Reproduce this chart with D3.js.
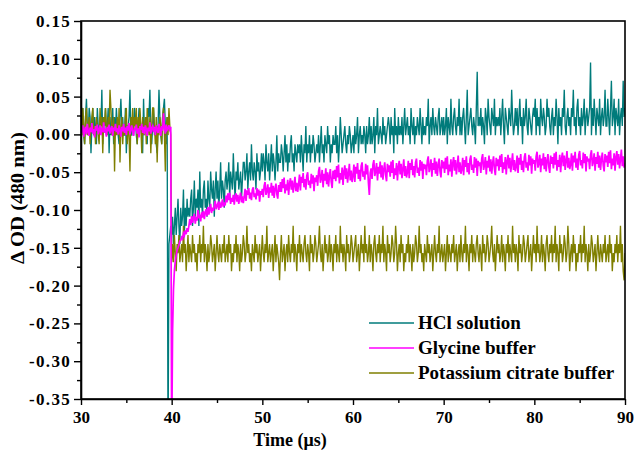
<!DOCTYPE html>
<html><head><meta charset="utf-8">
<script src="https://cdn.jsdelivr.net/npm/d3@7"></script>
<style>body{margin:0;background:#fff}svg{display:block}</style>
</head><body><svg id="c" width="637" height="451"></svg>
<script>
const seriesNames = ["HCl solution", "Glycine buffer", "Potassium citrate buffer"];
const seriesColors = ["#007b7b", "#ff00ff", "#7f7f00"];
const timeStart = 30, timeStep = 0.1; // µs, sampling of the traces
// ΔOD values in thousandths (mOD), one per time sample (30.0 … 90.0 µs)
const hclMilliOD = [
 11,23,35,-1,-13,23,47,11,-1,35,23,-25,11,35,-1,23,11,-13,35,11,
 -1,23,11,59,-13,23,11,35,-1,11,35,-25,23,-1,11,35,-13,23,-1,35,
 11,-1,-13,23,47,11,23,-1,-1,35,-25,11,11,23,59,-1,-1,23,11,35,
 23,-1,-13,11,35,23,11,-1,-25,47,-1,11,23,-13,35,23,59,-1,-13,11,
 35,-1,11,-13,-25,11,59,23,-1,-13,23,35,47,11,-13,23,-420,-145,-133,-121,
 -133,-109,-145,-121,-97,-133,-109,-85,-121,-145,-97,-121,-109,-73,-133,-97,-121,-85,-109,-97,
 -109,-85,-73,-121,-97,-61,-109,-85,-97,-73,-121,-49,-97,-85,-109,-73,-61,-97,-85,-109,
 -61,-85,-97,-49,-73,-85,-61,-109,-73,-49,-85,-61,-97,-73,-37,-85,-61,-73,-97,-61,
 -49,-73,-61,-37,-85,-49,-61,-73,-25,-61,-85,-49,-61,-37,-73,-61,-49,-85,-61,-37,
 -37,-61,-49,-25,-73,-49,-37,-61,-13,-49,-61,-37,-49,-73,-25,-49,-37,-61,-49,-25,
 -49,-25,-37,-61,-13,-37,-49,-25,-61,-37,-13,-49,-25,-37,-61,-37,-1,-49,-25,-37,
 -37,-13,-25,-49,-25,-1,-37,-13,-49,-25,-37,-13,-1,-37,-25,-49,-13,-25,-37,-13,
 -25,-13,-37,-1,-25,-49,-13,-25,11,-37,-13,-25,-1,-37,-13,-25,-1,-13,-37,-25,
 -13,-25,-1,-37,-13,11,-25,-13,-37,-1,-13,-25,11,-13,-1,-37,-13,-25,-1,-13,
 -13,11,-25,-1,-37,-13,23,-1,-25,-13,-1,11,-13,-25,-1,-13,11,-1,-25,-13,
 -1,-25,11,-13,-1,23,-25,-1,11,-13,-1,-13,11,-1,-25,11,-13,-1,23,-13,
 11,-13,-1,23,-25,11,-1,35,-13,-1,11,-1,-13,23,-1,11,-13,-1,11,23,
 11,-13,23,-1,11,-25,35,-1,11,-13,23,-1,11,-1,23,-13,11,35,-1,11,
 23,-1,11,-13,35,11,-1,23,-13,11,-1,23,11,-1,35,11,-13,23,-1,11,
 -1,23,11,47,-13,11,23,-1,35,11,-1,23,11,-1,23,35,-1,11,23,-1,
 23,-1,11,35,-13,23,11,-1,47,11,-1,23,35,11,-1,23,11,47,-1,23,
 -1,23,35,11,-13,23,59,-1,11,23,35,11,-1,23,11,-13,35,83,11,23,
 11,35,-1,23,11,-13,35,23,-1,47,23,11,-1,35,23,11,47,-1,23,11,
 23,11,35,-1,23,47,11,-13,35,23,11,-1,35,23,11,59,23,-1,11,35,
 11,35,-1,23,47,11,23,-13,35,11,23,47,11,-1,35,23,11,-1,23,35,
 23,47,-1,35,11,23,-1,47,23,11,35,23,-1,11,47,23,35,11,-1,23,
 35,-1,23,11,47,23,-13,35,11,23,-1,35,23,59,11,-1,23,35,11,23,
 -1,35,23,59,11,23,-1,35,47,11,23,-1,35,11,23,47,-1,23,35,11,
 23,35,95,-1,35,11,47,23,-1,35,23,11,47,-1,23,35,11,23,59,11,
 11,47,23,-1,35,71,11,23,47,-1,35,23,11,47,-1,23,35,11,71,23,
 35
];
const glycineMilliOD = [
 8,2,12,-3,6,10,0,14,4,-2,9,3,15,1,7,-4,11,5,13,0,
 6,12,-1,9,3,16,2,8,-3,10,4,13,1,7,11,-2,9,5,14,3,
 8,0,12,6,-3,10,4,14,2,9,-1,11,5,15,0,7,12,3,-2,9,
 5,13,1,8,-4,11,6,14,2,10,0,12,7,-2,9,4,16,1,8,11,
 3,10,-1,12,6,2,14,7,-2,11,5,28,9,1,13,6,8,12,4,10,
 -420,-260,-205,-180,-168,-160,-153,-150,-146,-141,-140,-136,-138,-131,-134,-127,-132,-124,-129,-121,
 -112,-120,-108,-117,-110,-105,-118,-109,-114,-100,-111,-106,-115,-103,-110,-101,-112,-104,-99,-108,
 -96,-106,-99,-92,-104,-97,-101,-95,-88,-99,-94,-91,-100,-89,-97,-93,-86,-96,-90,-94,
 -81,-90,-78,-87,-77,-92,-84,-89,-80,-93,-83,-78,-89,-80,-92,-84,-77,-90,-82,-91,
 -83,-72,-88,-74,-80,-71,-85,-77,-87,-73,-70,-83,-78,-86,-71,-81,-73,-89,-75,-80,
 -72,-83,-68,-63,-80,-75,-66,-84,-70,-77,-64,-81,-68,-84,-72,-65,-79,-85,-67,-76,
 -63,-76,-59,-71,-57,-78,-66,-74,-60,-80,-65,-58,-73,-61,-77,-67,-56,-75,-64,-76,
 -66,-53,-74,-56,-64,-51,-70,-59,-73,-55,-50,-67,-61,-71,-52,-65,-54,-75,-57,-63,
 -54,-68,-49,-43,-64,-58,-47,-70,-52,-61,-45,-66,-50,-69,-55,-46,-63,-71,-48,-59,
 -47,-62,-42,-57,-40,-65,-51,-60,-44,-67,-49,-41,-59,-45,-64,-52,-39,-61,-48,-63,
 -55,-40,-63,-43,-52,-38,-59,-47,-62,-42,-37,-56,-49,-60,-39,-53,-41,-64,-80,-51,
 -45,-59,-40,-34,-55,-49,-38,-61,-43,-52,-36,-57,-41,-60,-46,-37,-54,-62,-39,-50,
 -41,-56,-36,-51,-34,-59,-45,-54,-38,-61,-43,-35,-53,-39,-58,-46,-33,-55,-42,-57,
 -50,-35,-58,-38,-47,-33,-54,-42,-57,-37,-32,-51,-44,-55,-34,-48,-36,-59,-39,-46,
 -40,-54,-35,-29,-50,-44,-33,-56,-38,-47,-31,-52,-36,-55,-41,-32,-49,-57,-34,-45,
 -36,-51,-31,-46,-29,-54,-40,-49,-33,-56,-38,-30,-48,-34,-53,-41,-28,-50,-37,-52,
 -46,-31,-54,-34,-43,-29,-50,-38,-53,-33,-28,-47,-40,-51,-30,-44,-32,-55,-35,-42,
 -37,-51,-32,-26,-47,-41,-30,-53,-35,-44,-28,-49,-33,-52,-38,-29,-46,-54,-31,-42,
 -33,-48,-28,-43,-26,-51,-37,-46,-30,-53,-35,-27,-45,-31,-50,-38,-25,-47,-34,-49,
 -43,-28,-51,-31,-40,-26,-47,-35,-50,-30,-25,-44,-37,-48,-27,-41,-29,-52,-32,-39,
 -34,-48,-29,-23,-44,-38,-27,-50,-32,-41,-25,-46,-30,-49,-35,-26,-43,-51,-28,-39,
 -30,-45,-25,-40,-23,-48,-34,-43,-27,-50,-32,-24,-42,-28,-47,-35,-22,-44,-31,-46,
 -40,-25,-48,-28,-37,-23,-44,-32,-47,-27,-22,-41,-34,-45,-24,-38,-26,-49,-29,-36,
 -32,-46,-27,-21,-42,-36,-25,-48,-30,-39,-23,-44,-28,-47,-33,-24,-41,-49,-26,-37,
 -28,-43,-23,-38,-21,-46,-32,-41,-25,-48,-30,-22,-40,-26,-45,-33,-20,-42,-29,-44,
 -38
];
const citrateMilliOD = [
 23,-1,35,11,-13,23,35,-1,11,23,-13,11,23,35,-1,11,-13,23,11,-1,
 -13,35,11,23,-25,23,11,35,11,-1,23,11,59,35,-1,11,23,-49,11,-1,
 23,-1,35,-37,11,23,-13,11,-1,23,35,-13,11,-1,-49,23,11,35,-1,23,
 11,35,-13,23,-1,35,11,-25,23,-1,11,23,-13,35,11,-1,23,-25,11,35,
 35,11,-13,23,-37,11,-1,23,11,-13,23,35,-1,-49,11,23,-1,35,11,-1,
 -169,-145,-169,-133,-157,-181,-145,-157,-133,-169,-157,-145,-169,-121,-157,-145,-181,-157,-133,-169,
 -145,-157,-169,-133,-157,-145,-169,-157,-181,-145,-157,-133,-169,-145,-157,-121,-169,-145,-157,-181,
 -145,-169,-157,-133,-145,-169,-157,-145,-181,-157,-133,-157,-169,-145,-157,-169,-145,-157,-133,-169,
 -157,-145,-169,-133,-157,-145,-181,-157,-169,-145,-157,-133,-169,-145,-157,-181,-145,-169,-157,-133,
 -145,-169,-157,-121,-157,-145,-169,-157,-181,-145,-157,-169,-133,-157,-145,-169,-157,-145,-181,-157,
 -133,-157,-169,-145,-157,-121,-169,-157,-145,-169,-157,-145,-181,-157,-133,-169,-145,-157,-169,-193,
 -157,-133,-169,-157,-145,-181,-157,-145,-169,-133,-157,-169,-145,-157,-121,-169,-145,-157,-181,-145,
 -157,-133,-169,-145,-157,-169,-145,-133,-157,-169,-145,-157,-181,-133,-157,-145,-169,-157,-133,-145,
 -169,-157,-145,-121,-157,-169,-145,-181,-157,-133,-157,-145,-169,-157,-133,-169,-145,-157,-181,-145,
 -157,-133,-169,-145,-157,-169,-121,-157,-145,-169,-145,-157,-181,-133,-157,-145,-169,-157,-133,-145,
 -169,-157,-145,-133,-169,-157,-145,-181,-157,-133,-157,-145,-169,-121,-157,-145,-169,-157,-133,-169,
 -145,-157,-181,-145,-133,-157,-169,-145,-157,-133,-169,-145,-157,-121,-169,-145,-157,-181,-133,-157,
 -145,-169,-157,-133,-145,-169,-157,-121,-145,-181,-157,-145,-169,-133,-157,-145,-181,-157,-169,-145,
 -157,-133,-169,-145,-157,-181,-145,-169,-157,-133,-145,-169,-157,-121,-157,-145,-169,-157,-181,-145,
 -157,-169,-133,-157,-145,-169,-157,-145,-181,-157,-133,-157,-169,-145,-157,-121,-169,-157,-145,-169,
 -157,-145,-181,-157,-133,-169,-145,-157,-169,-145,-157,-133,-169,-157,-145,-181,-157,-145,-169,-133,
 -157,-169,-145,-157,-121,-169,-145,-157,-181,-145,-157,-133,-169,-145,-157,-169,-145,-133,-157,-169,
 -145,-157,-181,-133,-157,-145,-169,-157,-133,-145,-169,-157,-145,-121,-157,-169,-145,-181,-157,-133,
 -157,-145,-169,-157,-133,-169,-145,-157,-181,-145,-157,-133,-169,-145,-157,-169,-121,-157,-145,-169,
 -145,-157,-181,-133,-157,-145,-169,-157,-133,-145,-169,-157,-145,-133,-169,-157,-145,-181,-157,-133,
 -157,-145,-169,-121,-157,-145,-169,-157,-133,-169,-145,-157,-181,-145,-133,-157,-169,-145,-157,-133,
 -169,-145,-157,-121,-169,-145,-157,-181,-133,-157,-145,-169,-157,-133,-145,-169,-157,-121,-145,-181,
 -157,-145,-169,-133,-157,-145,-181,-157,-169,-145,-157,-133,-169,-145,-157,-121,-169,-145,-157,-181,
 -145,-169,-157,-133,-145,-169,-157,-145,-181,-157,-133,-157,-169,-145,-157,-169,-145,-157,-133,-169,
 -157,-145,-169,-133,-157,-145,-181,-157,-169,-145,-157,-133,-169,-145,-157,-121,-169,-145,-181,-193,
 -157
];
const xTicks = [30, 40, 50, 60, 70, 80, 90];
const xMinorTicks = [35, 45, 55, 65, 75, 85];
const yTicks = [0.15, 0.10, 0.05, 0.00, -0.05, -0.10, -0.15, -0.20, -0.25, -0.30, -0.35];
const yMinorTicks = [0.125, 0.075, 0.025, -0.025, -0.075, -0.125, -0.175, -0.225, -0.275, -0.325];
const xTitle = "Time (\u03bcs)";
const yTitle = "\u0394 OD (480 nm)";

const W = 637, H = 451;
const m = {left: 81, top: 21, right: 12, bottom: 52};
const svg = d3.select("#c");
const font = "'Liberation Serif','Times New Roman',serif";
const x = d3.scaleLinear().domain([30, 90]).range([m.left, W - m.right]);
const y = d3.scaleLinear().domain([-0.35, 0.15]).range([H - m.bottom, m.top]);

svg.append("defs").append("clipPath").attr("id", "clip")
  .append("rect").attr("x", m.left).attr("y", m.top)
  .attr("width", W - m.left - m.right).attr("height", H - m.top - m.bottom);

// draw order: HCl, citrate, glycine (on top)
const layers = [
  {vals: hclMilliOD, color: seriesColors[0], w: 1.35},
  {vals: citrateMilliOD, color: seriesColors[2], w: 1.35},
  {vals: glycineMilliOD, color: seriesColors[1], w: 1.7}
];
const g = svg.append("g").attr("clip-path", "url(#clip)");
const line = d3.line().x((d, i) => x(timeStart + i * timeStep)).y(d => y(d / 1000));
layers.forEach(L => {
  g.append("path").datum(L.vals).attr("d", line).attr("fill", "none")
    .attr("stroke", L.color).attr("stroke-width", L.w);
});

// frame
svg.append("rect").attr("x", m.left).attr("y", m.top)
  .attr("width", W - m.left - m.right).attr("height", H - m.top - m.bottom)
  .attr("fill", "none").attr("stroke", "#000").attr("stroke-width", 1.6);

function styleAxis(sel) {
  sel.select(".domain").attr("stroke-width", 1.6);
  sel.selectAll(".tick line").attr("stroke-width", 1.4);
  sel.selectAll("text").attr("font-family", font).attr("font-weight", "bold")
    .attr("font-size", 17).attr("fill", "#000");
}
const xa = svg.append("g").attr("transform", `translate(0,${H - m.bottom})`)
  .call(d3.axisBottom(x).tickValues(xTicks).tickSize(6).tickSizeOuter(0).tickPadding(6).tickFormat(d => d));
styleAxis(xa);
const xm = svg.append("g").attr("transform", `translate(0,${H - m.bottom})`)
  .call(d3.axisBottom(x).tickValues(xMinorTicks).tickSize(4).tickSizeOuter(0).tickFormat(""));
styleAxis(xm); xm.select(".domain").remove();

const ya = svg.append("g").attr("transform", `translate(${m.left},0)`)
  .call(d3.axisLeft(y).tickValues(yTicks).tickSize(7).tickSizeOuter(0).tickPadding(3).tickFormat(d => d.toFixed(2)));
styleAxis(ya);
ya.selectAll("text").attr("letter-spacing", 1.3);
const ym = svg.append("g").attr("transform", `translate(${m.left},0)`)
  .call(d3.axisLeft(y).tickValues(yMinorTicks).tickSize(4).tickSizeOuter(0).tickFormat(""));
styleAxis(ym); ym.select(".domain").remove();

svg.append("text").attr("x", 290).attr("y", 446).attr("text-anchor", "middle")
  .attr("font-family", font).attr("font-weight", "bold").attr("font-size", 18).text(xTitle);
svg.append("text").attr("transform", "translate(24,198) rotate(-90)").attr("text-anchor", "middle")
  .attr("font-family", font).attr("font-weight", "bold").attr("font-size", 18)
  .attr("textLength", 132).attr("lengthAdjust", "spacingAndGlyphs").text(yTitle);

// legend
const leg = svg.append("g");
seriesNames.forEach((name, i) => {
  const yy = 323 + i * 25;
  leg.append("line").attr("x1", 369).attr("x2", 414).attr("y1", yy).attr("y2", yy)
    .attr("stroke", seriesColors[i]).attr("stroke-width", 1.6);
  leg.append("text").attr("x", 418).attr("y", yy + 6).attr("font-family", font)
    .attr("font-weight", "bold").attr("font-size", 19).text(name);
});
</script></body></html>
